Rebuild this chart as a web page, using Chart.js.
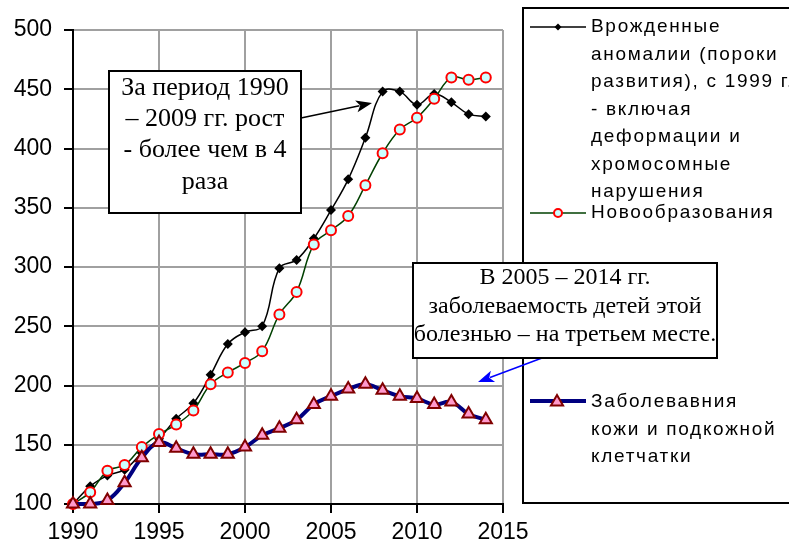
<!DOCTYPE html>
<html>
<head>
<meta charset="utf-8">
<script src="https://cdn.jsdelivr.net/npm/chart.js@4"></script>
<style>
  html, body { margin: 0; padding: 0; background: #fff; }
  #wrap { width: 789px; height: 543px; }
</style>
</head>
<body>
<div id="wrap"><canvas id="canvas" width="789" height="543"></canvas></div>
<script>
var years = [1990, 1991, 1992, 1993, 1994, 1995, 1996, 1997, 1998, 1999, 2000, 2001, 2002,
             2003, 2004, 2005, 2006, 2007, 2008, 2009, 2010, 2011, 2012, 2013, 2014];
var anomalies = [100, 115, 124, 129, 143, 155, 172, 185, 209, 235, 245, 250, 299,
                 306, 324, 348, 374, 409, 448, 448, 437, 446, 439, 429, 427];
var neoplasms = [100, 110, 128, 133, 148, 159, 167, 179, 201, 211, 219, 229, 260,
                 279, 319, 331, 343, 369, 396, 416, 426, 442, 460, 458, 460];
var skin = [100, 100, 103, 118, 139, 152, 147, 142, 142, 142, 148, 158, 164,
            171, 184, 191, 197, 201, 196, 191, 189, 184, 186, 176, 171];

var legendAnomalies = ['Врожденные', 'аномалии (пороки', 'развития), с 1999 г.', '- включая',
                       'деформации и', 'хромосомные', 'нарушения'];
var legendNeoplasms = ['Новообразования'];
var legendSkin = ['Заболевавния', 'кожи и подкожной', 'клетчатки'];
var note1 = ['За период 1990', '– 2009 гг. рост', '- более чем в 4', 'раза'];
var note2 = ['В 2005 – 2014 гг.', 'заболеваемость детей этой', 'болезнью – на третьем месте.'];

function pts(vals) {
  return vals.map(function (v, i) { return { x: years[i], y: v }; });
}

function marker(ctx, kind, x, y, r, fill, stroke, lw) {
  ctx.save();
  ctx.beginPath();
  if (kind === 'diamond') {
    ctx.moveTo(x, y - r); ctx.lineTo(x + r, y); ctx.lineTo(x, y + r); ctx.lineTo(x - r, y);
    ctx.closePath();
  } else if (kind === 'circle') {
    ctx.arc(x, y, r, 0, Math.PI * 2);
  } else {
    ctx.moveTo(x, y - r);
    ctx.lineTo(x + r * 0.866, y + r * 0.5);
    ctx.lineTo(x - r * 0.866, y + r * 0.5);
    ctx.closePath();
  }
  ctx.fillStyle = fill; ctx.fill();
  if (lw) { ctx.lineWidth = lw; ctx.strokeStyle = stroke; ctx.stroke(); }
  ctx.restore();
}

function arrow(ctx, x1, y1, x2, y2, color) {
  var a = Math.atan2(y2 - y1, x2 - x1), L = 16, W = 6;
  ctx.save();
  ctx.strokeStyle = color; ctx.fillStyle = color; ctx.lineWidth = 1.5;
  ctx.beginPath(); ctx.moveTo(x1, y1);
  ctx.lineTo(x2 - Math.cos(a) * L * 0.8, y2 - Math.sin(a) * L * 0.8); ctx.stroke();
  ctx.beginPath(); ctx.moveTo(x2, y2);
  ctx.lineTo(x2 - Math.cos(a) * L - Math.sin(a) * W, y2 - Math.sin(a) * L + Math.cos(a) * W);
  ctx.lineTo(x2 - Math.cos(a) * L * 0.75, y2 - Math.sin(a) * L * 0.75);
  ctx.lineTo(x2 - Math.cos(a) * L + Math.sin(a) * W, y2 - Math.sin(a) * L - Math.cos(a) * W);
  ctx.closePath(); ctx.fill();
  ctx.restore();
}

function noteBox(ctx, x, y, w, h, lines, cx, ys, font) {
  ctx.save();
  ctx.fillStyle = '#fff'; ctx.fillRect(x, y, w, h);
  ctx.strokeStyle = '#000'; ctx.lineWidth = 2; ctx.strokeRect(x, y, w, h);
  ctx.fillStyle = '#000'; ctx.font = font;
  ctx.textAlign = 'center'; ctx.textBaseline = 'middle';
  lines.forEach(function (t, i) { ctx.fillText(t, cx, ys[i]); });
  ctx.restore();
}

var overlay = {
  id: 'overlay',
  afterDraw: function (chart) {
    var ctx = chart.ctx;
    // legend box
    ctx.save();
    ctx.fillStyle = '#fff'; ctx.fillRect(523, 8, 280, 495);
    ctx.strokeStyle = '#000'; ctx.lineWidth = 2; ctx.strokeRect(523, 8, 280, 495);
    ctx.fillStyle = '#000';
    ctx.font = '19px "Liberation Sans", Arial, sans-serif';
    if ('letterSpacing' in ctx) ctx.letterSpacing = '1.7px';
    ctx.textAlign = 'left'; ctx.textBaseline = 'middle';
    legendAnomalies.forEach(function (t, i) { ctx.fillText(t, 591, 27 + i * 27.5); });
    legendNeoplasms.forEach(function (t, i) { ctx.fillText(t, 591, 213 + i * 27.5); });
    legendSkin.forEach(function (t, i) { ctx.fillText(t, 591, 402 + i * 27.5); });
    ctx.restore();

    ctx.save();
    ctx.lineWidth = 1.5; ctx.strokeStyle = '#000';
    ctx.beginPath(); ctx.moveTo(530, 27); ctx.lineTo(586, 27); ctx.stroke();
    ctx.strokeStyle = '#004000';
    ctx.beginPath(); ctx.moveTo(530, 213); ctx.lineTo(586, 213); ctx.stroke();
    ctx.lineWidth = 4; ctx.strokeStyle = '#000080';
    ctx.beginPath(); ctx.moveTo(530, 401); ctx.lineTo(586, 401); ctx.stroke();
    ctx.restore();
    marker(ctx, 'diamond', 558, 27, 3.5, '#000', '#000', 0);
    marker(ctx, 'circle', 558, 213, 4, '#ccffff', '#ff0000', 2);
    marker(ctx, 'triangle', 557, 402, 7, '#ff99cc', '#800000', 2);

    // annotations
    arrow(ctx, 301, 118, 372, 103, '#000');
    noteBox(ctx, 109, 71, 192, 142, note1, 205, [88, 119, 150, 182],
            '26px "Liberation Serif", "Times New Roman", serif');
    arrow(ctx, 542, 358, 478, 382, '#0000ff');
    noteBox(ctx, 413, 263, 304, 95, note2, 565, [278, 307, 335],
            '24px "Liberation Serif", "Times New Roman", serif');
  }
};

var ctx = document.getElementById('canvas').getContext('2d');
var chart = new Chart(ctx, {
  type: 'line',
  data: {
    datasets: [{
      label: legendAnomalies.join(' '),
      data: pts(anomalies),
      borderColor: '#000',
      borderWidth: 1.5,
      pointStyle: 'rectRot',
      pointRadius: 5,
      pointBackgroundColor: '#000',
      pointBorderColor: '#000',
      pointBorderWidth: 0,
      tension: 0.4,
      order: 3
    }, {
      label: legendNeoplasms[0],
      data: pts(neoplasms),
      borderColor: '#004000',
      borderWidth: 1.5,
      pointStyle: 'circle',
      pointRadius: 5,
      pointBackgroundColor: '#ccffff',
      pointBorderColor: '#ff0000',
      pointBorderWidth: 2,
      tension: 0.4,
      order: 2
    }, {
      label: legendSkin.join(' '),
      data: pts(skin),
      borderColor: '#000080',
      borderWidth: 4,
      pointStyle: 'triangle',
      pointRadius: 7,
      pointBackgroundColor: '#ff99cc',
      pointBorderColor: '#800000',
      pointBorderWidth: 2,
      tension: 0.4,
      order: 1
    }]
  },
  options: {
    responsive: false,
    animation: false,
    clip: false,
    layout: { padding: { top: 30, right: 286, left: 0, bottom: 0 } },
    plugins: { legend: { display: false }, tooltip: { enabled: false } },
    scales: {
      x: {
        type: 'linear',
        min: 1990, max: 2015,
        afterFit: function (s) { s.height = 39; },
        ticks: { stepSize: 5, color: '#000', padding: 6, maxRotation: 0,
                 font: { family: '"Liberation Sans", Arial, sans-serif', size: 23 },
                 callback: function (v) { return String(v); } },
        grid: { color: '#a0a0a0', lineWidth: 2, tickColor: '#000', tickLength: 9, tickWidth: 2 },
        border: { color: '#000', width: 2 }
      },
      y: {
        min: 100, max: 500,
        afterFit: function (s) { s.width = 73; },
        ticks: { stepSize: 50, color: '#000', padding: 12,
                 font: { family: '"Liberation Sans", Arial, sans-serif', size: 23 } },
        grid: { color: '#a0a0a0', lineWidth: 2, tickColor: '#000', tickLength: 9, tickWidth: 2 },
        border: { color: '#000', width: 2 }
      }
    }
  },
  plugins: [overlay]
});
</script>
</body>
</html>
